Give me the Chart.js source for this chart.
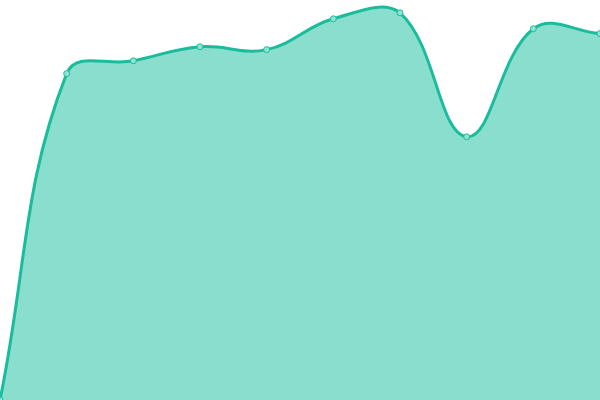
<!DOCTYPE html>
<html>
<head>
<meta charset="utf-8">
<script src="https://cdn.jsdelivr.net/npm/chart.js@4"></script>
<style>
  html, body { margin: 0; padding: 0; background: #fff; }
  #wrap { width: 600px; height: 400px; }
</style>
</head>
<body>
<div id="wrap"><canvas id="c"></canvas></div>
<script>
const LABELS = ['1', '2', '3', '4', '5', '6', '7', '8', '9', '10'];
const VALUES = [0, 81.6, 84.8, 88.3, 87.6, 95.3, 96.8, 65.8, 92.8, 91.6];

const LINE = '#1abc9c';
const FILL = 'rgba(22,190,158,0.5)';

new Chart(document.getElementById('c'), {
    type: 'line',
    data: {
        labels: LABELS,
        datasets: [{
            data: VALUES,
            fill: true,
            backgroundColor: FILL,
            borderColor: LINE,
            borderWidth: 3,
            tension: 0.4,
            pointRadius: 3,
            pointBorderWidth: 1,
            pointBackgroundColor: '#8fe3d2',
            pointBorderColor: LINE
        }]
    },
    options: {
        responsive: true, maintainAspectRatio: false,
        animation: false,
        layout: { padding: 0, autoPadding: false },
        plugins: { legend: { display: false }, tooltip: { enabled: false } },
        scales: {
            x: { display: false },
            y: { display: false, min: 0, max: 100 }
        }
    }
});
</script>
</body>
</html>
